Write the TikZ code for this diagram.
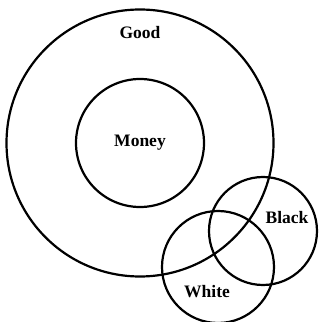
\documentclass[tikz,border=0pt]{standalone}
\usepackage{fontspec}
\setmainfont{Liberation Serif}
\begin{document}
\begin{tikzpicture}[x=1pt,y=1pt,
  ring/.style={circle,draw=black,line width=2.2pt,inner sep=0pt},
  lbl/.style={font=\bfseries\fontsize{17.5}{19}\selectfont,inner sep=0pt}]
\useasboundingbox (0,0) rectangle (321,322);
\node[ring,minimum size=267pt] (good) at (140,179) {};
\node[ring,minimum size=128pt] (money) at (140,179) {};
\node[ring,minimum size=108pt] (black) at (263,91) {};
\node[ring,minimum size=112pt] (white) at (218,55) {};
\node[lbl] (tgood) at (140,289) {Good};
\node[lbl] (tmoney) at (140,179) {Money};
\node[lbl] (tblack) at (287,104) {Black};
\node[lbl] (twhite) at (207,30) {White};
\end{tikzpicture}
\end{document}
